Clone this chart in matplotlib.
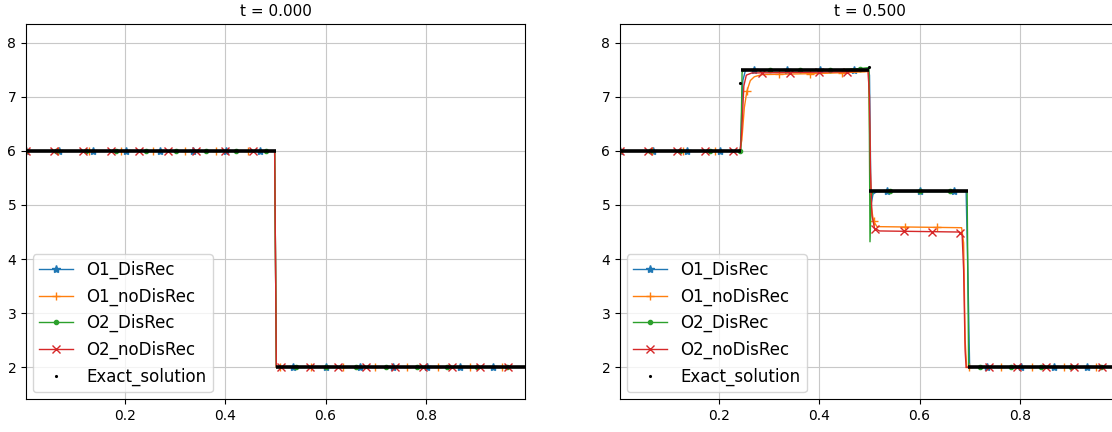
import numpy as np
import matplotlib
matplotlib.use("Agg")
import matplotlib.pyplot as plt
from matplotlib.lines import Line2D

# ---- data ----------------------------------------------------------------
titles = ["t = 0.000", "t = 0.500"]
labels = ["O1_DisRec", "O1_noDisRec", "O2_DisRec", "O2_noDisRec"]

# t = 0 : every scheme starts from the same step
t0_x = [0.0, 0.4983, 0.5017, 1.0]
t0_y = [6.0, 6.0, 2.0, 2.0]

# t = 0.5 : breakpoints
o1_dis_x = [0.0, 0.242, 0.247, 0.252, 0.26, 0.49, 0.497, 0.5, 0.503, 0.507, 0.515, 0.693, 0.697, 0.70, 1.0]
o1_dis_y = [6.0, 6.0, 7.3, 7.48, 7.5, 7.5, 7.52, 7.4, 5.0, 5.2, 5.25, 5.25, 3.5, 2.0, 2.0]

o1_nodis_x = [0.0, 0.241, 0.245, 0.25, 0.255, 0.262, 0.27, 0.285, 0.40, 0.49, 0.498, 0.50, 0.503,
              0.508, 0.515, 0.60, 0.684, 0.688, 0.691, 0.694, 1.0]
o1_nodis_y = [6.0, 6.0, 6.2, 6.8, 7.1, 7.3, 7.37, 7.41, 7.43, 7.46, 7.47, 6.5, 5.0,
              4.7, 4.6, 4.59, 4.58, 4.3, 2.5, 2.0, 2.0]

o2_dis_x = [0.0, 0.243, 0.2455, 0.25, 0.44, 0.48, 0.499, 0.501, 0.5035, 0.507, 0.695, 0.698, 1.0]
o2_dis_y = [6.0, 6.0, 7.45, 7.5, 7.5, 7.52, 7.54, 4.32, 5.15, 5.25, 5.25, 2.0, 2.0]

o2_nodis_x = [0.0, 0.242, 0.245, 0.249, 0.254, 0.265, 0.45, 0.497, 0.50, 0.502, 0.505, 0.51,
              0.52, 0.68, 0.685, 0.688, 0.691, 0.693, 1.0]
o2_nodis_y = [6.0, 6.0, 6.4, 7.2, 7.4, 7.44, 7.46, 7.48, 7.0, 5.6, 4.8, 4.57,
              4.52, 4.5, 4.45, 3.8, 2.3, 2.0, 2.0]

# exact solution: piecewise constant states
exact0_edges = [0.0, 0.5, 1.0]
exact0_levels = [6.0, 2.0]
exact1_edges = [0.0, 0.244, 0.499, 0.697, 1.0]
exact1_levels = [6.0, 7.5, 5.25, 2.0]
exact1_dots_x = [0.242, 0.499]
exact1_dots_y = [7.25, 7.556]

panels = [
    dict(series=[(t0_x, t0_y)] * 4, edges=exact0_edges, levels=exact0_levels, dx=[], dy=[]),
    dict(series=[(o1_dis_x, o1_dis_y), (o1_nodis_x, o1_nodis_y),
                 (o2_dis_x, o2_dis_y), (o2_nodis_x, o2_nodis_y)],
         edges=exact1_edges, levels=exact1_levels, dx=exact1_dots_x, dy=exact1_dots_y),
]

# ---- style ---------------------------------------------------------------
colors = ["C0", "C1", "C2", "C3"]
markers = ["*", "+", ".", "x"]
n_cells = 300
mark_every = [20, 19, 18, 17]
xc = (np.arange(n_cells) + 0.5) / n_cells

W, H = 1112, 432
fig = plt.figure(figsize=(W / 100, H / 100), dpi=100)
ax_pos = [[26, 33, 499, 375], [620, 33, 499, 375]]

for k, p in enumerate(panels):
    l, b, w, h = ax_pos[k]
    ax = fig.add_axes([l / W, b / H, w / W, h / H])
    for i, (sx, sy) in enumerate(p["series"]):
        ax.plot(sx, sy, color=colors[i], lw=1.0)
        mx = xc[::mark_every[i]]
        ax.plot(mx, np.interp(mx, sx, sy), ls="none", color=colors[i], marker=markers[i], ms=6)
    e = p["edges"]
    ax.hlines(p["levels"], e[:-1], e[1:], color="k", lw=2.6, zorder=5)
    if p["dx"]:
        ax.plot(p["dx"], p["dy"], "k.", ms=2.5, zorder=5)
    ax.set_xlim(xc[0], xc[-1])
    ax.set_ylim(1.414, 8.345)
    ax.set_xticks([0.2, 0.4, 0.6, 0.8])
    ax.set_yticks([2, 3, 4, 5, 6, 7, 8])
    ax.grid(True, color="#c8c8c8")
    ax.set_title(titles[k], fontsize=11)
    handles = [Line2D([], [], color=colors[i], marker=markers[i], lw=1.0, label=labels[i]) for i in range(4)]
    handles.append(Line2D([], [], color="k", marker=".", ms=2.5, ls="none", label="Exact_solution"))
    ax.legend(handles=handles, loc="lower left", fontsize=12, borderaxespad=0.4)

fig.savefig("out.png", dpi=100)
